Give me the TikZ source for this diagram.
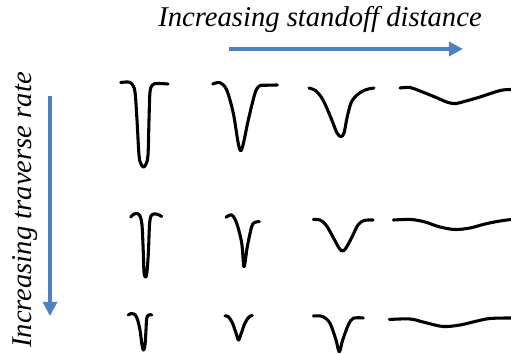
\documentclass[tikz,border=0pt]{standalone}
\usepackage{fontspec}
\setmainfont{Liberation Serif}
\usetikzlibrary{arrows.meta, positioning}
\definecolor{arrowblue}{HTML}{4F81BD}

\begin{document}
\begin{tikzpicture}[
    x=0.02cm, y=-0.02cm,
    axis/.style={arrowblue, line width=1.8pt, -{Triangle[length=8pt, width=8pt]}},
    lbl/.style={font=\fontsize{16.3}{19}\selectfont\itshape, inner sep=0pt},
    trace/.style={line width=1.75pt, line cap=round, line join=round},
]
    \useasboundingbox (0,0) rectangle (511,354);

    % Axis labels and arrows
    \node[lbl] (standoff) at (320,19) {Increasing standoff distance};
    \coordinate (hstart) at (229,49);
    \coordinate (hend) at (463,49);
    \draw[axis] (hstart) -- (hend);

    \node[lbl, rotate=90] (traverse) at (25,210) {Increasing traverse rate};
    \coordinate (vstart) at (50,96);
    \coordinate (vend) at (50,316);
    \draw[axis] (vstart) -- (vend);

    % Row 1: slowest traverse
    \draw[trace] plot[smooth, tension=0.55] coordinates {(120.7,82.5) (128,82) (132,84) (135,92) (137,120) (139,155) (141,164) (143.5,167) (146,164) (148,155) (149,120) (150,92) (152.5,85) (157,83.5) (168,84)};
    \draw[trace] plot[smooth, tension=0.55] coordinates {(212.7,84) (220,82.7) (226.7,90) (233.3,113.3) (238,142) (240.7,150.7) (243.5,143) (248.3,120) (255,93.3) (259.3,86) (265,85.3) (277.3,85)};
    \draw[trace] plot[smooth, tension=0.55] coordinates {(309,88) (316,91) (323,100) (331,118) (337,133) (341,136.5) (344,133) (347,118) (351,103) (357,95) (365,90) (374,88)};
    \draw[trace] plot[smooth, tension=0.55] coordinates {(400,88) (410,87.5) (420,91) (435,97) (448,102.5) (456,103.5) (466,101) (480,97) (495,92) (503,90) (511,89.5)};

    % Row 2
    \draw[trace] plot[smooth, tension=0.55] coordinates {(130.7,217) (134,214) (137,213.5) (140,216) (142,225) (143.2,250) (144,272) (145.5,277) (147,272) (148.5,250) (149.5,225) (151,216) (154,214) (158,214.5) (161.7,216.5)};
    \draw[trace] plot[smooth, tension=0.55] coordinates {(226,217.3) (231.7,215) (236.7,223.3) (241.7,243) (244,266.7) (247.3,246.7) (251.7,226.7) (255,222.3) (259.3,221.7)};
    \draw[trace] plot[smooth, tension=0.55] coordinates {(313.3,219.5) (320,220) (326,225) (333,237) (339,248) (342.5,251) (346,248) (352,237) (358,225) (364,220.5) (373,220)};
    \draw[trace] plot[smooth, tension=0.55] coordinates {(393.3,220) (411,219.5) (425,222) (440,227) (455,229.5) (470,228) (485,224) (500,221) (511,219.5)};

    % Row 3: fastest traverse
    \draw[trace] plot[smooth, tension=0.55] coordinates {(128.3,315) (131,313.5) (134,314) (137,318) (140,330) (142,345) (143.5,350) (145,345) (146,330) (146.5,320) (147.5,316) (150,314.5) (151.7,315)};
    \draw[trace] plot[smooth, tension=0.55] coordinates {(225,316) (228,316.5) (232,322) (236,333) (238.5,340) (241,334) (245,323) (249,317) (252.3,315.5)};
    \draw[trace] plot[smooth, tension=0.55] coordinates {(313.3,316) (322.7,316.5) (330,323.3) (336,340) (339.3,351.7) (342.7,340) (348.3,325) (353.3,318.3) (363.3,318)};
    \draw[trace] plot[smooth, tension=0.55] coordinates {(389.3,319.5) (410,319) (425,322.5) (443,326.5) (460,325) (475,321.5) (490,318.5) (511,318)};
\end{tikzpicture}
\end{document}
